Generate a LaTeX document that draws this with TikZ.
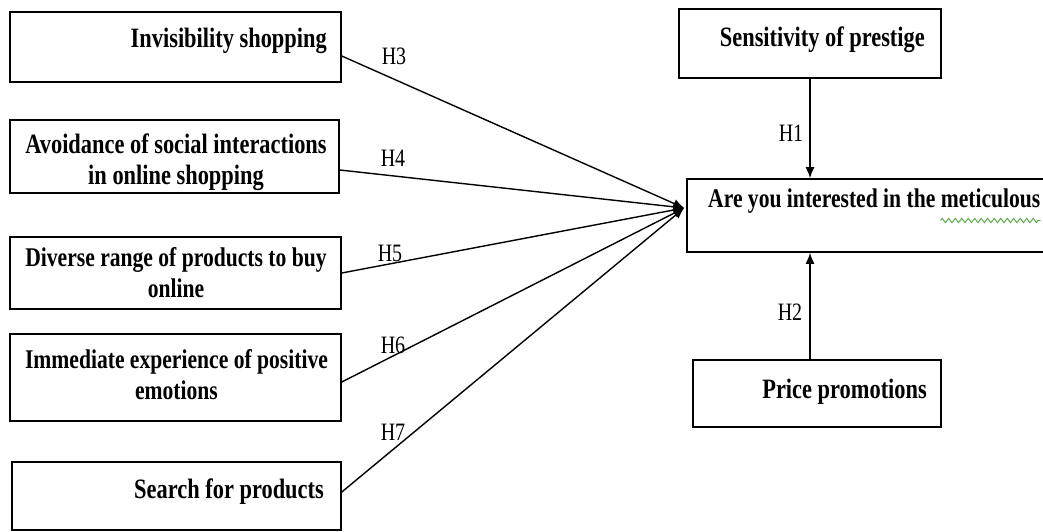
\documentclass[tikz,border=0pt]{standalone}
\usepackage{fontspec}
\setmainfont{Liberation Serif}[FakeStretch=0.80]
\usetikzlibrary{arrows.meta,decorations.pathmorphing}
\definecolor{spell}{RGB}{80,165,60}

\begin{document}
\begin{tikzpicture}[x=1pt,y=-1pt,
    box/.style={draw,line width=1.6pt,inner sep=0pt},
    txt/.style={font=\fontsize{28}{31}\selectfont\bfseries,inner sep=0pt,align=center},
    txts/.style={txt,font=\fontsize{27}{31}\selectfont\bfseries},
    hyp/.style={font=\fontsize{25}{30}\selectfont,inner sep=0pt},
    arr/.style={line width=1.4pt,-{Latex[length=11pt,width=9pt]}}]
  \useasboundingbox (0,0) rectangle (1043,532);
  % left column
  \node[box,minimum width=331,minimum height=70] (inv) at (175.5,47) {};
  \node[box,minimum width=329,minimum height=73] (avoid) at (174.5,156.5) {};
  \node[box,minimum width=331,minimum height=72] (div) at (175.5,273) {};
  \node[box,minimum width=331,minimum height=87] (imm) at (175.5,377.5) {};
  \node[box,minimum width=329,minimum height=68] (srch) at (176.5,496) {};
  \node[txt,anchor=base east] (inv-t) at (327,48) {Invisibility shopping};
  \node[txt] (avoid-t) at (176,162) {Avoidance of social interactions\\in online shopping};
  \node[txts] (div-t) at (176,272.5) {Diverse range of products to buy\\online};
  \node[txts] (imm-t) at (176.5,375) {Immediate experience of positive\\emotions};
  \node[txt,anchor=base east] (srch-t) at (324,498) {Search for products};
  % right column
  \node[box,minimum width=262,minimum height=69] (sens) at (810,43.5) {};
  \node[box,minimum width=373,minimum height=73] (goal) at (873.5,215.5) {};
  \node[box,minimum width=248,minimum height=67] (price) at (817,393.5) {};
  \node[txt,anchor=base east] (sens-t) at (925,47) {Sensitivity of prestige};
  \node[txts,anchor=base west] (goal-t) at (708,207) {Are you interested in the};
  \node[txts,anchor=base west] (goal-w) at ([xshift=5]goal-t.base east) {meticulous};
  \node[txt,anchor=base east] (price-t) at (927,398) {Price promotions};
  \draw[spell,line width=0.9pt,decorate,decoration={zigzag,amplitude=2.2pt,segment length=6.5pt}]
    ([yshift=-13.5]goal-w.base west) -- ([yshift=-13.5]goal-w.base east);
  % hypotheses
  \coordinate (tip) at ([xshift=-2,yshift=7.5]goal.west);
  \draw[arr] ([yshift=-9]inv.east) -- (tip);
  \draw[arr] ([yshift=-13.5]avoid.east) -- (tip);
  \draw[arr] (div.east) -- (tip);
  \draw[arr] ([yshift=-4.5]imm.east) -- (tip);
  \draw[arr] ([yshift=4]srch.east) -- (tip);
  \draw[arr] (sens.south) -- (sens.south |- goal.north);
  \draw[arr] (price.north -| sens.south) -- (sens.south |- goal.south);
  \node[hyp,anchor=base] (h1) at (791,142) {H1};
  \node[hyp,anchor=base] (h2) at (790,320) {H2};
  \node[hyp,anchor=base] (h3) at (394,65) {H3};
  \node[hyp,anchor=base] (h4) at (393,166.5) {H4};
  \node[hyp,anchor=base] (h5) at (390,261.5) {H5};
  \node[hyp,anchor=base] (h6) at (393,353) {H6};
  \node[hyp,anchor=base] (h7) at (393,440) {H7};
\end{tikzpicture}
\end{document}
